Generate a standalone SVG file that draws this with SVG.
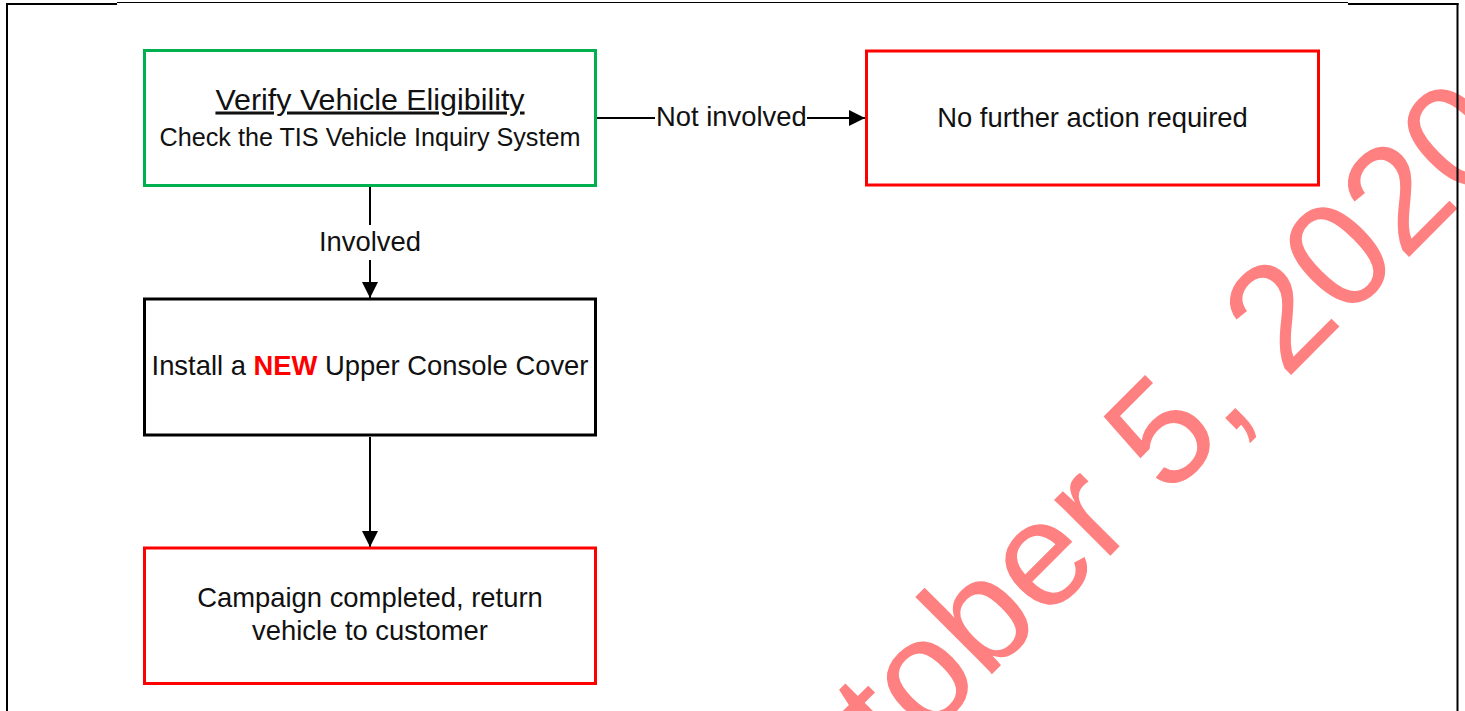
<svg xmlns="http://www.w3.org/2000/svg" width="1465" height="711" viewBox="0 0 1465 711">
  <style>
    .box { fill: #ffffff; stroke-width: 3; }
    .green { stroke: #00B050; }
    .red { stroke: #FF0000; }
    .black { stroke: #000000; }
    .lbl { font-family: "Liberation Sans", Arial, sans-serif; font-size: 27.4px; fill: #111111; text-anchor: middle; }
    .conn { stroke: #000000; stroke-width: 2; fill: none; }
    .frame { stroke: #000000; fill: none; }
    .wm { font-family: "Liberation Sans", Arial, sans-serif; font-size: 150px; fill: #FF8080; }
  </style>
  <defs>
    <marker id="arrow" markerUnits="userSpaceOnUse" markerWidth="17" markerHeight="16" refX="16" refY="8" orient="auto">
      <path d="M0,0 L16,8 L0,16 Z" fill="#000000"/>
    </marker>
  </defs>

  <rect width="1465" height="711" fill="#ffffff"/>

  <!-- date watermark -->
  <text class="wm" transform="translate(761,905) rotate(-45)">October 5, 2020</text>

  <!-- page frame -->
  <g id="frame">
    <line class="frame" x1="7" y1="3" x2="7" y2="711" stroke-width="2"/>
    <line class="frame" x1="6" y1="4" x2="117" y2="4" stroke-width="2"/>
    <line class="frame" x1="117" y1="2.5" x2="1348" y2="2.5" stroke-width="1"/>
    <line class="frame" x1="1348" y1="4" x2="1458.5" y2="4" stroke-width="2"/>
    <line class="frame" x1="1457.5" y1="3" x2="1457.5" y2="711" stroke-width="2"/>
  </g>

  <!-- connectors -->
  <g id="connectors">
    <line class="conn" x1="597" y1="118" x2="865" y2="118" marker-end="url(#arrow)"/>
    <rect x="655" y="104" width="152" height="30" fill="#ffffff"/>
    <text class="lbl" x="731.4" y="126">Not involved</text>

    <line class="conn" x1="370" y1="187" x2="370" y2="298" marker-end="url(#arrow)"/>
    <rect x="355" y="225" width="30" height="35" fill="#ffffff"/>
    <text class="lbl" x="370" y="250.5">Involved</text>

    <line class="conn" x1="370" y1="437" x2="370" y2="547" marker-end="url(#arrow)"/>
  </g>

  <!-- eligibility check -->
  <g id="verify">
    <rect class="box green" x="144.5" y="50.5" width="451" height="135"/>
    <text class="lbl" x="370" y="109.5" style="font-size:30.4px" text-decoration="underline">Verify Vehicle Eligibility</text>
    <text class="lbl" x="370" y="146" style="font-size:25.2px">Check the TIS Vehicle Inquiry System</text>
  </g>

  <g id="no-action">
    <rect class="box red" x="866.5" y="51" width="452" height="134"/>
    <text class="lbl" x="1092.5" y="127">No further action required</text>
  </g>

  <g id="install">
    <rect class="box black" x="144.5" y="299" width="451" height="136"/>
    <text class="lbl" x="370" y="374.5">Install a <tspan fill="#FF0000" font-weight="bold">NEW</tspan> Upper Console Cover</text>
  </g>

  <g id="complete">
    <rect class="box red" x="144.5" y="548" width="451" height="135.5"/>
    <text class="lbl" x="370" y="606.5">Campaign completed, return</text>
    <text class="lbl" x="370" y="640">vehicle to customer</text>
  </g>
</svg>
